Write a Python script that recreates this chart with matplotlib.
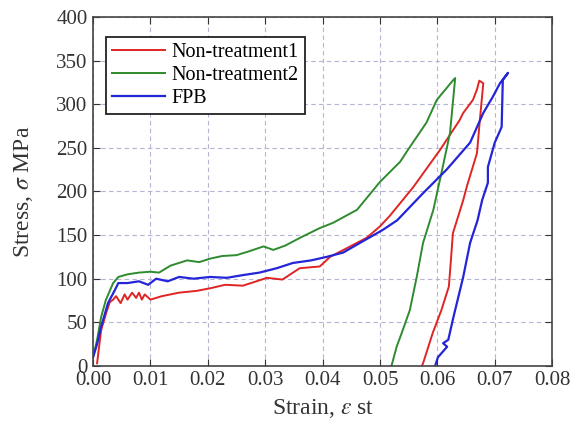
import matplotlib
matplotlib.use("Agg")
import matplotlib.pyplot as plt

plt.rcParams['font.family'] = ['Liberation Serif', 'DejaVu Serif']
plt.rcParams['mathtext.fontset'] = 'stix'

# Non-treatment1 (red)
nt1_strain = [0.0007, 0.0014, 0.0023, 0.0029, 0.0035, 0.004, 0.0048, 0.0055, 0.006, 0.0068, 0.0075,
              0.008, 0.0085, 0.009, 0.01, 0.012, 0.015, 0.018, 0.0204, 0.023, 0.0261, 0.028, 0.0303,
              0.033, 0.036, 0.0395, 0.0413, 0.0448, 0.0477, 0.05, 0.0517, 0.0558, 0.0605, 0.0639,
              0.0645, 0.0662, 0.0669, 0.0673, 0.068, 0.0674, 0.0669, 0.0651, 0.0645, 0.0627, 0.0624,
              0.062, 0.0607, 0.0592, 0.0575, 0.0573]
nt1_stress = [3, 41, 61, 73, 76, 80, 72, 82, 76, 84, 78, 84, 76, 82, 76, 80, 84, 86, 89, 93, 92, 96,
              101, 99, 112, 114, 125, 137, 147, 160, 172, 205, 248, 282, 290, 305, 317, 327, 324, 282,
              244, 205, 190, 152, 125, 91, 64, 38, 3, 0]

# Non-treatment2 (green)
nt2_strain = [0.0, 0.0007, 0.0014, 0.0022, 0.0031, 0.0035, 0.0044, 0.006, 0.008, 0.01, 0.0115, 0.0135,
              0.0164, 0.0185, 0.0204, 0.0225, 0.025, 0.027, 0.0297, 0.0314, 0.0335, 0.0361, 0.0395,
              0.0418, 0.046, 0.05, 0.0535, 0.0549, 0.0581, 0.0599, 0.0628, 0.0631, 0.0622, 0.0607,
              0.0593, 0.0575, 0.0564, 0.0552, 0.0538, 0.0529, 0.052]
nt2_stress = [10, 30, 56, 75, 89, 95, 102, 105, 107, 108, 107, 115, 121, 119, 123, 126, 127, 131, 137,
              133, 138, 147, 158, 164, 179, 211, 234, 248, 279, 305, 328, 330, 267, 221, 179, 141,
              102, 64, 38, 22, 0]

# FPB (blue)
fpb_strain = [0.0, 0.0007, 0.0014, 0.0026, 0.0038, 0.0044, 0.006, 0.008, 0.0096, 0.011, 0.013, 0.015,
              0.0175, 0.0204, 0.0233, 0.026, 0.029, 0.032, 0.0348, 0.038, 0.0407, 0.0436, 0.0465,
              0.0505, 0.053, 0.0575, 0.0616, 0.0657, 0.068, 0.0697, 0.0709, 0.0721, 0.0723, 0.0714,
              0.0712, 0.07, 0.0688, 0.0688, 0.0678, 0.067, 0.0657, 0.0645, 0.0628, 0.0619, 0.061,
              0.0617, 0.0601, 0.0596]
fpb_stress = [10, 25, 45, 72, 87, 95, 95, 97, 93, 100, 97, 102, 100, 102, 101, 104, 107, 112, 118, 121,
              125, 130, 141, 156, 167, 198, 225, 256, 290, 309, 324, 334, 336, 328, 274, 256, 228, 210,
              190, 167, 141, 102, 56, 30, 26, 22, 10, 0]

labels = ['Non-treatment1', 'Non-treatment2', 'FPB']
colors = ['#e02424', '#2e8b2e', '#2424d8']

fig = plt.figure(figsize=(5.71, 4.25), dpi=100)
ax = fig.add_axes([0.163, 0.139, 0.804, 0.821])

ax.plot(nt1_strain, nt1_stress, color=colors[0], lw=1.4, label=labels[0])
ax.plot(nt2_strain, nt2_stress, color=colors[1], lw=1.4, label=labels[1])
ax.plot(fpb_strain, fpb_stress, color=colors[2], lw=1.6, label=labels[2])

ax.set_xlim(0, 0.08)
ax.set_ylim(0, 400)
ax.set_xticks([i * 0.01 for i in range(9)])
ax.set_xticklabels(['%.2f' % (i * 0.01) for i in range(9)])
ax.set_yticks(range(0, 401, 50))

ax.grid(True, linestyle=(0, (4, 3)), color='#b4b4d4', lw=0.8)
ax.tick_params(direction='in', top=True, right=True, labelsize=15, length=5, colors='#333333',
               labelcolor='#333333', pad=4)
for s in ax.spines.values():
    s.set_color('#444444')
    s.set_linewidth(1.2)

ax.set_xlabel(r'Strain, $\varepsilon$ st', fontsize=17, color='#333333', labelpad=5)
ax.set_ylabel(r'Stress, $\sigma$ MPa', fontsize=17, color='#333333', labelpad=15)

leg = ax.legend(loc='upper left', bbox_to_anchor=(0.02, 0.955), fontsize=14.5, fancybox=False,
                framealpha=1, edgecolor='#222222', handlelength=2.6, borderpad=0.3,
                labelspacing=0.2, handletextpad=0.35, borderaxespad=0.2)
leg.get_frame().set_linewidth(1.3)

fig.savefig('out.png', dpi=100)
